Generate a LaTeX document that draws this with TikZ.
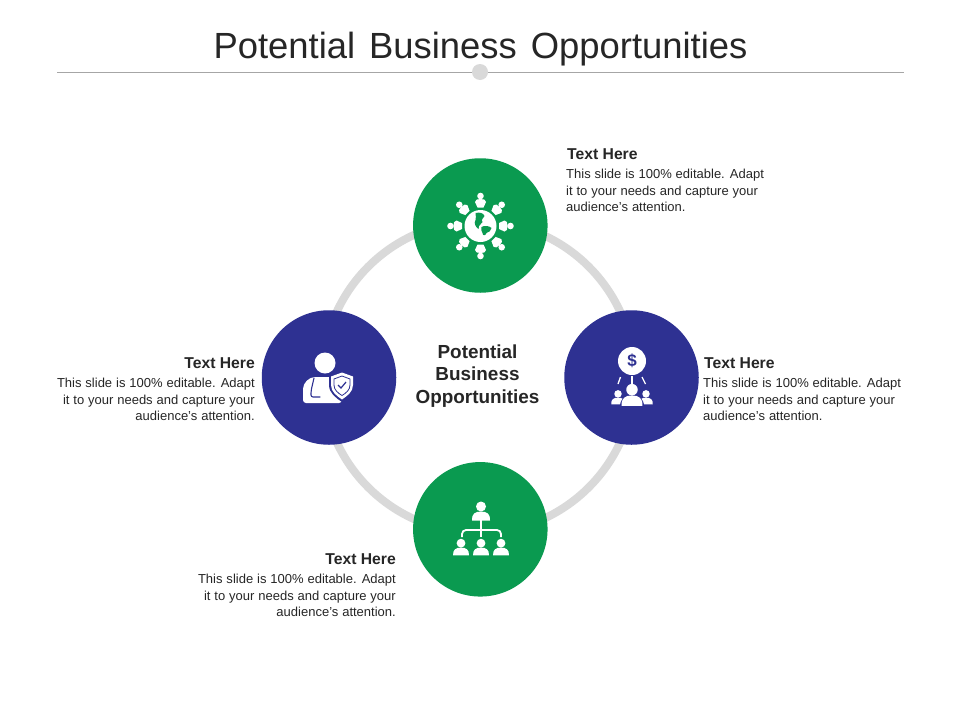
\documentclass[tikz,border=0pt]{standalone}
\usepackage{fontspec}
\setmainfont{Liberation Sans}
\usepackage{tikz}
\usetikzlibrary{positioning}

\definecolor{hubGreen}{HTML}{0A9A50}
\definecolor{hubBlue}{HTML}{2E3192}
\definecolor{ringGray}{HTML}{D9D9D9}
\definecolor{ruleGray}{HTML}{A6A6A6}
\definecolor{inkGray}{HTML}{262626}

\newcommand{\bodyFont}{\fontsize{13}{16.3}\selectfont\spaceskip 3.9pt\relax}

\tikzset{
  hub/.style={circle, minimum size=134.5pt, inner sep=0pt},
  headText/.style={font=\fontsize{15.7}{18}\selectfont\bfseries, text=inkGray, inner sep=0pt},
  bodyLeft/.style={font=\bodyFont, text=inkGray, align=left, inner sep=0pt},
  bodyRight/.style={font=\bodyFont, text=inkGray, align=right, inner sep=0pt}
}

\begin{document}
\begin{tikzpicture}[x=1pt, y=-1pt]
  \newcommand{\drawPerson}[5]{
    \begin{scope}[shift={(#1,#2)}, rotate=#4, scale=#3]
      \fill[#5] (0,-5.5) circle (5);
      \fill[#5] (-9,8.5) .. controls (-9.5,2) and (-6,-0.5) .. (0,-0.5)
        .. controls (6,-0.5) and (9.5,2) .. (9,8.5) -- cycle;
    \end{scope}
  }

  \useasboundingbox (0,0) rectangle (960,720);
  \fill[white] (0,0) rectangle (960,720);

  % title
  \node[font=\fontsize{36.4}{40}\selectfont, text=inkGray, inner sep=0pt] (title) at (480.5,49)
    {\spaceskip 14pt\relax Potential Business Opportunities};
  \coordinate (ruleL) at (57,72.5);
  \coordinate (ruleR) at (904,72.5);
  \draw[ruleGray, line width=1pt] (ruleL) -- (ruleR);
  \node[circle, fill=ringGray, minimum size=16pt, inner sep=0pt] (ruleDot) at (480,72) {};

  % ring and hubs
  \coordinate (ringCenter) at (478.5,377);
  \draw[ringGray, line width=8pt] (ringCenter) circle (156);
  \node[hub, fill=hubGreen] (top) at (480.3,225.5) {};
  \node[hub, fill=hubBlue] (left) at (329,377.5) {};
  \node[hub, fill=hubBlue] (right) at (631.5,377.5) {};
  \node[hub, fill=hubGreen] (bottom) at (480.3,529.3) {};

  \node[font=\fontsize{18.9}{22.5}\selectfont\bfseries, text=inkGray, align=center, inner sep=0pt] (center) at (477.5,376)
    {Potential\\Business\\Opportunities};

  % labels
  \node[headText, anchor=west] (topHead) at (567,154) {Text Here};
  \node[bodyLeft, below=9.5pt of topHead.south west, anchor=north west, xshift=-1pt] (topBody)
    {This slide is 100\% editable. Adapt\\it to your needs and capture your\\audience's attention.};
  \node[headText, anchor=west] (rightHead) at (704,363) {Text Here};
  \node[bodyLeft, below=9.5pt of rightHead.south west, anchor=north west, xshift=-1pt] (rightBody)
    {This slide is 100\% editable. Adapt\\it to your needs and capture your\\audience's attention.};
  \node[headText, anchor=east] (leftHead) at (255,363) {Text Here};
  \node[bodyRight, below=9.5pt of leftHead.south east, anchor=north east] (leftBody)
    {This slide is 100\% editable. Adapt\\it to your needs and capture your\\audience's attention.};
  \node[headText, anchor=east] (bottomHead) at (396,559) {Text Here};
  \node[bodyRight, below=9.5pt of bottomHead.south east, anchor=north east] (bottomBody)
    {This slide is 100\% editable. Adapt\\it to your needs and capture your\\audience's attention.};

  % globe icon
  \foreach \a in {0,45,...,315}{
    \begin{scope}[shift={(480.5,226)}, rotate=\a]
      \fill[white] (0,-30) circle (3.3);
      \fill[white] (-3,-18.5) -- (-5.5,-24) .. controls (-5.5,-26.5) and (-3,-27) .. (0,-27)
        .. controls (3,-27) and (5.5,-26.5) .. (5.5,-24) -- (3,-18.5) -- cycle;
    \end{scope}
  }
  \fill[white] (480.5,226) circle (16);
  \begin{scope}[shift={(480.5,226)}]
    \fill[hubGreen] (-5,-13) .. controls (-1,-14) and (3,-13) .. (4,-10)
      .. controls (3,-7) and (0,-7) .. (2,-4) .. controls (1,-1) and (-2,-2) .. (-2,3)
      .. controls (-5,1) and (-7,-3) .. (-5,-6) .. controls (-3,-8) and (-6,-10) .. (-5,-13) -- cycle;
    \fill[hubGreen] (1,1) .. controls (4,-1) and (9,0) .. (11,2)
      .. controls (11,5) and (8,6) .. (6,7) .. controls (5,10) and (2,10) .. (2,7)
      .. controls (1,5) and (0,3) .. (1,1) -- cycle;
  \end{scope}

  % shield icon
  \fill[white] (325,363) circle (10.5);
  \fill[white, rounded corners=3pt] (303,403) -- (303,392) .. controls (303,383) and (309,377) .. (318,377)
    -- (332,377) .. controls (338,377) and (342,382) .. (342,392) -- (342,403) -- cycle;
  \draw[hubBlue, line width=1.1pt, line cap=round, rounded corners=2pt] (314,378) -- (311,391) -- (311,397) -- (320,397);
  \fill[hubBlue] (342,370) -- (329,375) -- (329,385) .. controls (329,393) and (336,398) .. (342,402)
    .. controls (348,398) and (355,393) .. (355,385) -- (355,375) -- cycle;
  \fill[white] (342,372.5) -- (331,376.5) -- (331,385) .. controls (331,392) and (337,396) .. (342,399.5)
    .. controls (347,396) and (353,392) .. (353,385) -- (353,376.5) -- cycle;
  \draw[hubBlue, line width=0.8pt] (342,376) -- (334,379) -- (334,385) .. controls (334,390) and (338,393) .. (342,395.5)
    .. controls (346,393) and (350,390) .. (350,385) -- (350,379) -- cycle;
  \draw[hubBlue, line width=1.2pt] (338,385) -- (341,388) -- (346,382);

  % money icon
  \node[circle, fill=white, minimum size=28pt, inner sep=0pt, text=hubBlue, font=\fontsize{17}{17}\selectfont\bfseries] (coin) at (632,361) {\$};
  \draw[white, line width=1.3pt] (620.5,377) -- (618,384);
  \draw[white, line width=1.3pt] (632,376) -- (632,384);
  \draw[white, line width=1.3pt] (642,377) -- (645.5,384);
  \drawPerson{618}{398}{0.75}{0}{white}
  \drawPerson{646}{398}{0.75}{0}{white}
  \fill[hubBlue] (620,406.5) .. controls (620,399) and (625,394.5) .. (632,394.5)
    .. controls (639,394.5) and (644,399) .. (644,406.5) -- cycle;
  \drawPerson{632}{396}{1.15}{0}{white}

  % team icon
  \drawPerson{481}{512}{1}{0}{white}
  \coordinate (teamRoot) at (481,520);
  \coordinate (teamMid) at (481,537);
  \coordinate (teamL) at (462,537);
  \coordinate (teamR) at (501,537);
  \draw[white, line width=1.8pt] (teamRoot) -- (teamMid);
  \draw[white, line width=1.8pt, rounded corners=4pt] (teamL) |- (481,530) -| (teamR);
  \foreach \x in {461,481,501}{
    \drawPerson{\x}{548}{0.88}{0}{white}
  }
\end{tikzpicture}
\end{document}
